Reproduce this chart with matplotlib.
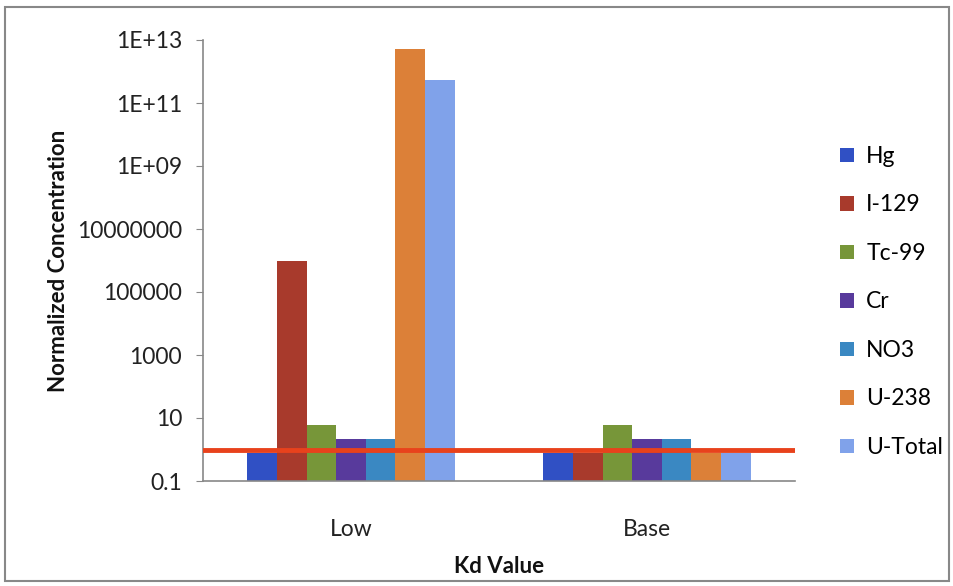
import matplotlib
matplotlib.use("Agg")
import matplotlib.pyplot as plt
from matplotlib.patches import Rectangle
import numpy as np

plt.rcParams['font.family'] = ['Lato', 'DejaVu Sans']

categories = ["Low", "Base"]
series = ["Hg", "I-129", "Tc-99", "Cr", "NO3", "U-238", "U-Total"]
values = {
    "Hg":      [0.8, 0.8],
    "I-129":   [1.0e6, 0.8],
    "Tc-99":   [6.0, 6.0],
    "Cr":      [2.1, 2.1],
    "NO3":     [2.1, 2.1],
    "U-238":   [5.0e12, 0.8],
    "U-Total": [5.5e11, 0.8],
}
colors = ["#3050C4", "#A83A2C", "#779639", "#583A9C", "#3A88C2", "#DC8038", "#80A2EA"]
threshold = 1.0
ytick_values = [0.1, 10, 1000, 1e5, 1e7, 1e9, 1e11, 1e13]
ytick_labels = ["0.1", "10", "1000", "100000", "10000000", "1E+09", "1E+11", "1E+13"]

fig = plt.figure(figsize=(9.54, 5.86), dpi=100)
ax = fig.add_axes([203 / 954, 1 - 481 / 586, (795 - 203) / 954, (481 - 40) / 586])

x = np.arange(len(categories))
n = len(series)
group_w = 0.70
bw = group_w / n
for i, (name, col) in enumerate(zip(series, colors)):
    offs = -group_w / 2 + bw * (i + 0.5)
    ax.bar(x + offs, values[name], width=bw, color=col, label=name, zorder=2)

ax.axhline(threshold, color="#E8421C", lw=3.5, zorder=3)

ax.set_yscale("log")
ax.set_ylim(0.1, 1e13)
ax.set_xlim(-0.5, 1.5)
ax.set_yticks(ytick_values)
ax.set_yticklabels(ytick_labels)
ax.minorticks_off()
ax.set_xticks(x)
ax.set_xticklabels(categories)
ax.tick_params(axis="y", length=5, color="#888888", labelsize=16.5, pad=10, labelcolor="#222222")
ax.tick_params(axis="x", length=0, labelsize=16.5, pad=27, labelcolor="#222222")

for s in ["top", "right"]:
    ax.spines[s].set_visible(False)
for s in ["left", "bottom"]:
    ax.spines[s].set_color("#888888")
    ax.spines[s].set_linewidth(1.2)

ax.set_ylabel("Normalized Concentration", fontsize=16, fontweight="bold", labelpad=6, color="#111111")
ax.set_xlabel("Kd Value", fontsize=16, fontweight="bold", labelpad=12, color="#111111")

leg = ax.legend(loc="upper left", frameon=False, fontsize=16.5, handlelength=0.6, handleheight=0.6,
                labelspacing=1.2, handletextpad=0.55, borderaxespad=0, borderpad=0)
leg.set_bbox_to_anchor((840 / 954, 1 - 146 / 586), transform=fig.transFigure)

fig.patches.append(Rectangle((5 / 954, 5 / 586), 944 / 954, 574 / 586, transform=fig.transFigure,
                             fill=False, edgecolor="#888888", lw=1.5))

fig.savefig("out.png", dpi=100)
